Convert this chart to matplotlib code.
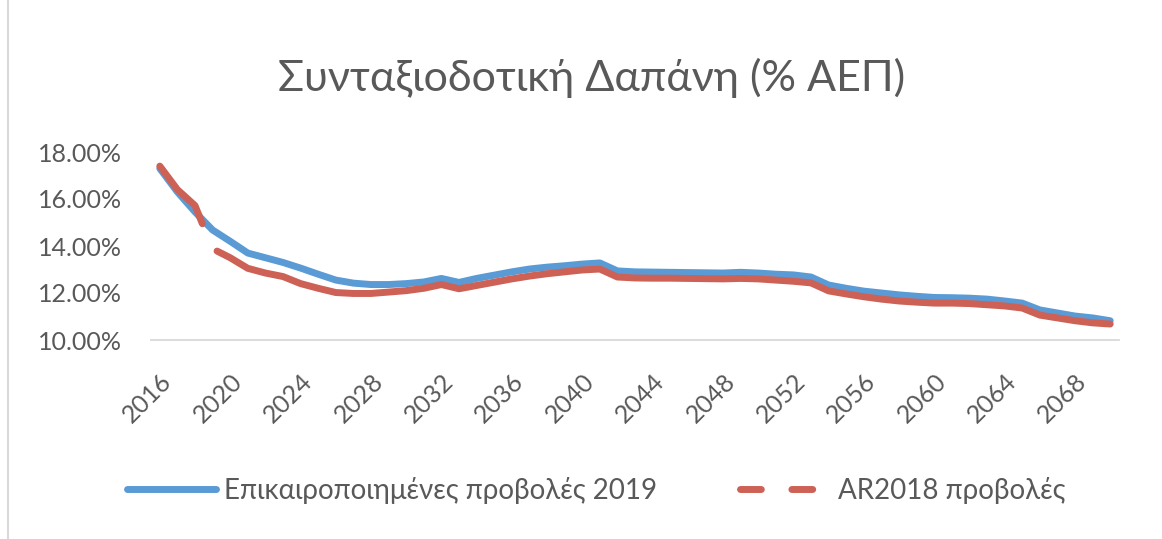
import matplotlib.pyplot as plt
import numpy as np
from matplotlib.lines import Line2D
from matplotlib.ticker import FuncFormatter

plt.rcParams['font.family'] = ['Lato', 'DejaVu Sans']
plt.rcParams['lines.scale_dashes'] = False

# --- Dados ---
anos = list(range(2016, 2071))

# Επικαιροποιημένες προβολές 2019 (% ΑΕΠ)
proj_2019 = [17.30, 16.30, 15.45, 14.68, 14.20, 13.70, 13.50, 13.30, 13.06, 12.80,
             12.55, 12.42, 12.36, 12.36, 12.40, 12.47, 12.62, 12.45, 12.62, 12.76,
             12.90, 13.02, 13.10, 13.16, 13.23, 13.28, 12.94, 12.90, 12.89, 12.88,
             12.87, 12.86, 12.85, 12.88, 12.85, 12.80, 12.77, 12.68, 12.34, 12.20,
             12.08, 12.00, 11.92, 11.86, 11.81, 11.80, 11.78, 11.74, 11.66, 11.57,
             11.28, 11.15, 11.02, 10.94, 10.82]

# AR2018 προβολές (% ΑΕΠ)
ar_2018 = [17.40, 16.40, 15.72, 13.88, 13.50, 13.05, 12.85, 12.70, 12.40, 12.20,
           12.02, 11.98, 11.98, 12.04, 12.10, 12.20, 12.36, 12.18, 12.32, 12.46,
           12.60, 12.72, 12.82, 12.90, 12.98, 13.02, 12.68, 12.64, 12.63, 12.63,
           12.62, 12.61, 12.60, 12.62, 12.60, 12.55, 12.50, 12.43, 12.09, 11.96,
           11.84, 11.74, 11.66, 11.61, 11.57, 11.57, 11.55, 11.50, 11.45, 11.36,
           11.06, 10.94, 10.82, 10.73, 10.68]

anos_rotulos = list(range(2016, 2069, 4))
y_ticks = [10, 12, 14, 16, 18]

azul = '#5B9BD5'
vermelho = '#CD6155'
cinza = '#595959'

W, H = 1162, 539
fig = plt.figure(figsize=(W / 100, H / 100), dpi=100)
ax = fig.add_axes([151 / W, 1 - 340 / H, (1119 - 151) / W, (340 - 152) / H])

ax.plot(anos, proj_2019, color=azul, lw=5, solid_capstyle='round', solid_joinstyle='round')
linha_ar, = ax.plot(anos, ar_2018, color=vermelho, lw=5,
                    dash_capstyle='round', dash_joinstyle='round')

ax.set_xlim(2015.5, 2070.5)
ax.set_ylim(10, 18)
ax.set_xticks(anos_rotulos)
ax.set_yticks(y_ticks)
ax.yaxis.set_major_formatter(FuncFormatter(lambda v, p: f"{v:.2f}%"))
ax.tick_params(axis='both', length=0, colors=cinza, labelsize=18)
ax.tick_params(axis='y', pad=21)
ax.tick_params(axis='x', pad=21)
for lbl in ax.get_xticklabels():
    lbl.set_rotation(45)
    lbl.set_ha('right')
    lbl.set_rotation_mode('anchor')

for s in ['top', 'right', 'left']:
    ax.spines[s].set_visible(False)
ax.spines['bottom'].set_color('#d9d9d9')
ax.spines['bottom'].set_linewidth(1.3)

# Padrão tracejado longo: o único intervalo visível cai entre 2018 e 2019
pts = ax.transData.transform(np.column_stack([anos, ar_2018]))
seg = np.hypot(np.diff(pts[:, 0]), np.diff(pts[:, 1]))
px2pt = 72 / fig.dpi
on1 = seg[:2].sum() + 0.42 * seg[2]
gap = 0.58 * seg[2] + 5
linha_ar.set_dashes([on1 * px2pt, gap * px2pt, seg.sum() * px2pt, 1])

fig.text(592 / W, 1 - 78 / H, "Συνταξιοδοτική Δαπάνη (% ΑΕΠ)",
         ha='center', va='center', fontsize=31, color=cinza)

alcas = [Line2D([], [], color=azul, lw=5, solid_capstyle='round'),
         Line2D([], [], color=vermelho, lw=5, dashes=(15, 22), dash_capstyle='round')]
fig.legend(alcas, ["Επικαιροποιημένες προβολές 2019", "AR2018 προβολές"],
           loc='center', bbox_to_anchor=(596 / W, 1 - 490 / H), ncol=2,
           frameon=False, fontsize=20, handlelength=3.2, handletextpad=0.3,
           columnspacing=3.0, labelcolor=cinza)

fig.add_artist(Line2D([8 / W, 8 / W], [0, 1], color='#d9d9d9', lw=1.5))

fig.savefig('out.png', dpi=100)
